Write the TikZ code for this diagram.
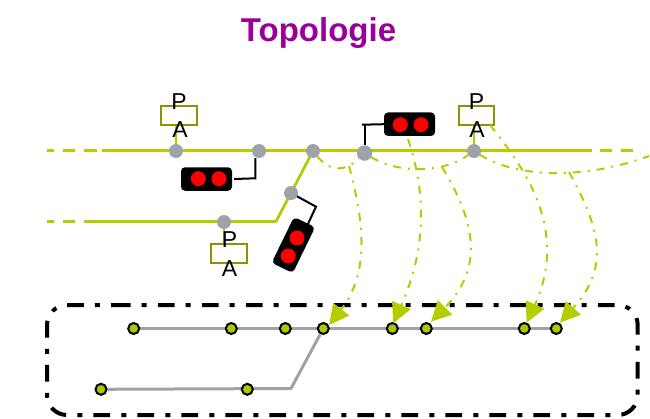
\documentclass[tikz,border=0pt]{standalone}
\usepackage{fontspec}
\setmainfont{Liberation Sans}
\usetikzlibrary{arrows.meta,backgrounds,calc}
\definecolor{lime}{HTML}{B5CC00}
\definecolor{olive}{HTML}{8A9400}
\definecolor{graynode}{HTML}{9EA3A8}
\definecolor{titlepurple}{HTML}{990099}
\tikzset{
  track/.style={draw=lime,line width=2.8pt},
  grayn/.style={circle,fill=graynode,minimum size=14pt,inner sep=0pt,outer sep=0pt},
  stn/.style={circle,draw=black,line width=2pt,fill=lime!97!black,minimum size=11pt,inner sep=0pt},
  pabox/.style={draw=olive,line width=2pt,minimum width=35.5pt,minimum height=19.3pt,inner sep=0pt},
  palabel/.style={font=\fontsize{23}{23}\selectfont,inner sep=0pt,text=black},
  sigbox/.style={fill=black,rounded corners=4pt,minimum width=51pt,minimum height=23.5pt,inner sep=0pt},
  lamp/.style={circle,fill=red,minimum size=15pt,inner sep=0pt},
  lead/.style={draw=black,line width=2pt},
  flow/.style={draw=lime,line width=2pt,dash pattern=on 8pt off 7pt on 2pt off 7pt},
  flowarrow/.style={flow,-{Triangle[length=20pt,width=20pt,sep=0pt,fill=lime]}},
  stub/.style={draw=lime,line width=2.2pt},
  framebox/.style={draw=black,line width=4pt,rounded corners=20pt,dash pattern=on 16.7pt off 11pt on 5pt off 11.3pt},
  schem/.style={draw=graynode,line width=3pt,line join=round}
}
\begin{document}
\begin{tikzpicture}[x=1pt,y=-1pt]
\useasboundingbox (0,0) rectangle (650,418);
\node[font=\bfseries\fontsize{33}{33}\selectfont,text=titlepurple,inner sep=0pt] (title) at (318.5,33) {Topologie};

% frame
\coordinate (fs) at (94,305);
\coordinate (ftr) at (637.7,305);
\coordinate (fbr) at (637.7,415);
\coordinate (fbl) at (47,415);
\coordinate (ftl) at (47,305);
\draw[framebox] (fs) -- (ftr) -- (fbr) -- (fbl) -- (ftl) -- cycle;

% track nodes
\node[grayn] (g1) at (176,151) {};
\node[grayn] (g2) at (259,151) {};
\node[grayn] (g3) at (313,151) {};
\node[grayn] (g5) at (291,193) {};
\node[grayn] (g6) at (224,222) {};
\node[grayn,minimum size=15.5pt] (g4) at (364.5,153) {};
\node[grayn] (g7) at (474,151) {};

% PA boxes
\node[pabox] (b1) at (179,115.3) {};
\node[palabel] (b1p) at (179,101.5) {P};
\node[palabel] (b1a) at (180,130) {A};
\node[pabox] (b2) at (229,253.5) {};
\node[palabel] (b2p) at (229.5,239.5) {P};
\node[palabel] (b2a) at (229.5,268.5) {A};
\node[pabox] (b3) at (476.7,115.3) {};
\node[palabel] (b3p) at (476.5,101.5) {P};
\node[palabel] (b3a) at (477,130) {A};

% signals
\node[sigbox] (s1) at (206.5,179) {};
\node[lamp] (s1a) at (198.3,178.7) {};
\node[lamp] (s1b) at (219,178.7) {};
\node[sigbox,rotate=64] (s2) at (293.4,245) {};
\node[lamp] (s2a) at (297,238) {};
\node[lamp] (s2b) at (288.3,256) {};
\node[sigbox] (s3) at (409.5,124.2) {};
\node[lamp] (s3a) at (400.3,124.7) {};
\node[lamp] (s3b) at (421,124.7) {};

% schematic nodes
\node[stn] (n1) at (133.7,328.5) {};
\node[stn] (n2) at (231.3,328.5) {};
\node[stn] (n3) at (285.3,328.5) {};
\node[stn] (n4) at (323.3,328.5) {};
\node[stn] (n5) at (392.3,328.5) {};
\node[stn] (n6) at (426.3,328.5) {};
\node[stn] (n7) at (524.3,328.5) {};
\node[stn] (n8) at (556.3,328.5) {};
\node[stn] (n9) at (101,389.3) {};
\node[stn] (n10) at (247.3,389.3) {};
\coordinate (turnb) at (291,388.5);

% free ends
\coordinate (L1) at (47,150.5);
\coordinate (R1) at (633,150.5);
\coordinate (L2) at (47,221.5);
\coordinate (turn) at (276,221.5);
\coordinate (c1) at (255.3,178.3);
\coordinate (c2) at (316,206.7);
\coordinate (c2e) at (307.7,224.5);
\coordinate (c3) at (362,124.7);
\coordinate (ss) at (408,139);
\coordinate (bs) at (490,125);
\coordinate (e) at (649,156);
\coordinate (j1) at (349,166);
\coordinate (j2) at (442,167);
\coordinate (j3) at (569,172);
\coordinate (t1) at (329,325);
\coordinate (t2) at (393.3,323.3);
\coordinate (t3) at (431,321.7);
\coordinate (t4) at (526.7,322.7);
\coordinate (t5) at (560,322.7);

\begin{scope}[on background layer]
  \draw[schem] (n1) -- (n8);
  \draw[schem] (n9) -- (turnb) -- (n4);
  \draw[track,dash pattern=on 7pt off 9pt on 12pt off 9pt on 13pt off 5pt on 490pt off 8pt on 12pt off 9pt on 12pt] (L1) -- (R1);
  \draw[track,line join=round,dash pattern=on 7pt off 9pt on 12pt off 9pt on 500pt] (L2) -- (turn) -- (g3);
  \draw[stub] (g1) -- (g1 |- b1.south);
  \draw[stub] (g6) -- (g6 |- b2.north);
  \draw[stub] (g7) -- (g7 |- b3.south);
  \draw[flow] (g3) .. controls (330,172) and (345,172) .. (g4);
  \draw[flow] (g4) .. controls (395,172) and (440,175) .. (g7);
  \draw[flow] (g7) .. controls (520,180) and (590,178) .. (e);
\end{scope}

% leads
\draw[lead] ([xshift=2pt]s1.east) -- (c1) -- (c1 |- g2.south);
\draw[lead] (g5) -- (c2) -- (c2e);
\draw[lead] (s3.west) -- (c3);
\draw[lead] (g4) -- (g4 |- s3.west);

% flows to schematic
\draw[flowarrow] (j1) .. controls (362,215) and (372,270) .. (t1);
\draw[flowarrow] (ss) .. controls (425,190) and (428,245) .. (t2);
\draw[flowarrow] (j2) .. controls (468,210) and (490,262) .. (t3);
\draw[flowarrow] (bs) .. controls (522,165) and (570,228) .. (t4);
\draw[flowarrow] (j3) .. controls (598,225) and (612,265) .. (t5);
\end{tikzpicture}
\end{document}
